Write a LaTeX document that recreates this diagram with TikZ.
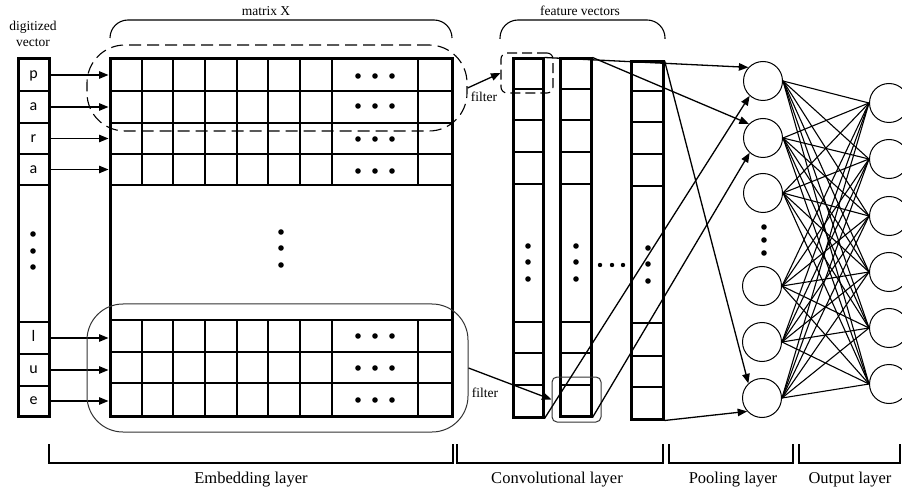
\documentclass[tikz,border=0pt]{standalone}
\usepackage{fontspec}
\setmainfont{Liberation Serif}
\newfontfamily\letterfont{Carlito}
\usetikzlibrary{arrows.meta}
\begin{document}
\begin{tikzpicture}[x=1pt,y=-1pt,
  thickbox/.style={draw, line width=3pt, inner sep=0pt},
  thinline/.style={line width=1.7pt},
  conn/.style={line width=1.3pt, -{Triangle[length=9.5pt,width=7.5pt]}},
  lbl/.style={font=\fontsize{13.5}{14}\selectfont, inner sep=0pt},
  layerlbl/.style={font=\fontsize{16.5}{17}\selectfont, inner sep=0pt},
  letter/.style={font=\letterfont\fontsize{16}{16}\selectfont, inner sep=0pt, minimum width=31pt, text height=7.5pt, text depth=0pt},
  neuron/.style={draw, circle, line width=1pt, minimum size=39pt, inner sep=0pt},
  mesh/.style={line width=1.1pt},
  bracket/.style={line width=1.1pt},
  topbrace/.style={line width=1.1pt, rounded corners=18pt},
  filterbox/.style={draw, line width=1.1pt, inner sep=0pt},
]
\useasboundingbox (0,0) rectangle (902,494);
\clip (0,0) rectangle (902,494);

% ---------- digitized vector ----------
\node[lbl] (dv1) at (33,27) {digitized};
\node[lbl] (dv2) at (33,43) {vector};
\foreach \y in {91,123,154,185,322,354,386}
  \draw[thinline] (18,\y) -- (49,\y);
\node[thickbox, minimum width=31pt, minimum height=357pt] (vec) at (33.5,237.5) {};
\node[letter] (v1) at (33.5,75) {p};
\node[letter] (v2) at (33.5,107) {a};
\node[letter] (v3) at (33.5,138.5) {r};
\node[letter] (v4) at (33.5,169.5) {a};
\node[letter] (v5) at (33.5,338) {l};
\node[letter] (v6) at (33.5,370) {u};
\node[letter] (v7) at (33.5,401) {e};
\foreach \y in {234,251,267} \fill (33,\y) circle (2.8);

% ---------- matrix X ----------
\foreach \y in {91,123,154,185,320,352,383}
  \draw[thinline] (110,\y) -- (452,\y);
\foreach \x in {142,173,205,237,268,300,332,418} {
  \draw[thinline] (\x,59) -- (\x,185);
  \draw[thinline] (\x,320) -- (\x,416);
}
\node[thickbox, minimum width=342pt, minimum height=357pt] (mat) at (281,237.5) {};
\foreach \y in {76,106,139,171,336,368,400}
  \foreach \x in {358,375,392} \fill (\x,\y) circle (2.8);
\foreach \y in {232,248,265} \fill (281,\y) circle (2.8);

\foreach \v in {v1,v2,v3,v4,v5,v6,v7}
  \draw[conn] (\v.east) -- (\v.east -| mat.west);

\node[lbl] (mx) at (266,11) {matrix X};
\draw[topbrace] (110,38) -- (110,20) -- (452,20) -- (452,38);

% filter regions
\node[filterbox, dashed, dash pattern=on 12pt off 6pt, rounded corners=38pt,
      minimum width=380pt, minimum height=86pt] (fx) at (277,88) {};
\node[filterbox, draw=black!80, line width=1pt, rounded corners=36pt,
      minimum width=381pt, minimum height=128pt] (bx) at (277.5,368) {};

% ---------- feature vectors ----------
\foreach \y in {89,120,152,184,322,353,385} {
  \draw[thinline] (513,\y) -- (543,\y);
  \draw[thinline] (560,\y) -- (591,\y);
}
\foreach \y in {91,122,154,186,323,356,387}
  \draw[thinline] (631,\y) -- (663,\y);
\node[thickbox, minimum width=30pt, minimum height=358pt] (c1) at (528,238) {};
\node[thickbox, minimum width=31pt, minimum height=357pt] (c2) at (575.5,237.5) {};
\node[thickbox, minimum width=32pt, minimum height=357pt] (c3) at (647,240.5) {};
\foreach \y in {246,262,279} { \fill (528,\y) circle (2.8); \fill (576,\y) circle (2.8); }
\foreach \y in {248,264,281} \fill (648,\y) circle (2.8);
\foreach \x in {600,612,623} \fill (\x,265) circle (2.2);

\node[lbl] (fvl) at (580,11) {feature vectors};
\draw[topbrace] (500,39) -- (500,20) -- (665,20) -- (665,39);

\node[filterbox, dashed, dash pattern=on 10pt off 5pt, rounded corners=6pt,
      minimum width=52pt, minimum height=40pt] (fv) at (527,73) {};
\node[filterbox, draw=black!80, line width=1pt, rounded corners=5pt,
      minimum width=49pt, minimum height=45pt] (sx) at (576.5,399.5) {};

\node[lbl] (fl1) at (484,97) {filter};
\node[lbl] (fl2) at (485,393) {filter};
\draw[conn] (fx.east) -- (fv.west);
\draw[conn] (bx.east) -- (sx.west);

% ---------- pooling layer ----------
\node[neuron] (p1) at (763,81) {};
\node[neuron] (p2) at (763,138) {};
\node[neuron] (p3) at (763,193) {};
\node[neuron] (p4) at (762,286) {};
\node[neuron] (p5) at (762,342) {};
\node[neuron] (p6) at (762,398) {};
\foreach \y in {227,240,253} \fill (764,\y) circle (2.8);

% ---------- output layer ----------
\node[neuron] (o1) at (889,103) {};
\node[neuron] (o2) at (889,159) {};
\node[neuron] (o3) at (889,216) {};
\node[neuron] (o4) at (889,272) {};
\node[neuron] (o5) at (889,328) {};
\node[neuron] (o6) at (889,384) {};

\foreach \i in {1,...,6}
  \foreach \j in {1,...,6}
    \draw[mesh] (p\i.east) -- (o\j.west);

% conv -> pooling
\draw[conn] (c1.north east) -- (p1.137);
\draw[conn] (c2.north east) -- (p2.135);
\draw[conn] (c1.south east) -- (p1.228);
\draw[conn] (c2.south east) -- (p2.228);
\draw[conn] (c3.north east) -- (p6.133);
\draw[conn] (c3.south east) -- (p6.222);

% ---------- layer brackets ----------
\draw[bracket] (49,444) -- (49,463) -- (453,463) -- (453,444);
\draw[bracket] (457,444) -- (457,463) -- (663,463) -- (663,444);
\draw[bracket] (669,444) -- (669,463) -- (793,463) -- (793,444);
\draw[bracket] (799,444) -- (799,463) -- (900,463) -- (900,444);
\node[layerlbl] (l1) at (251,480) {Embedding layer};
\node[layerlbl] (l2) at (557,480) {Convolutional layer};
\node[layerlbl] (l3) at (733,480) {Pooling layer};
\node[layerlbl] (l4) at (850,480) {Output layer};
\end{tikzpicture}
\end{document}
